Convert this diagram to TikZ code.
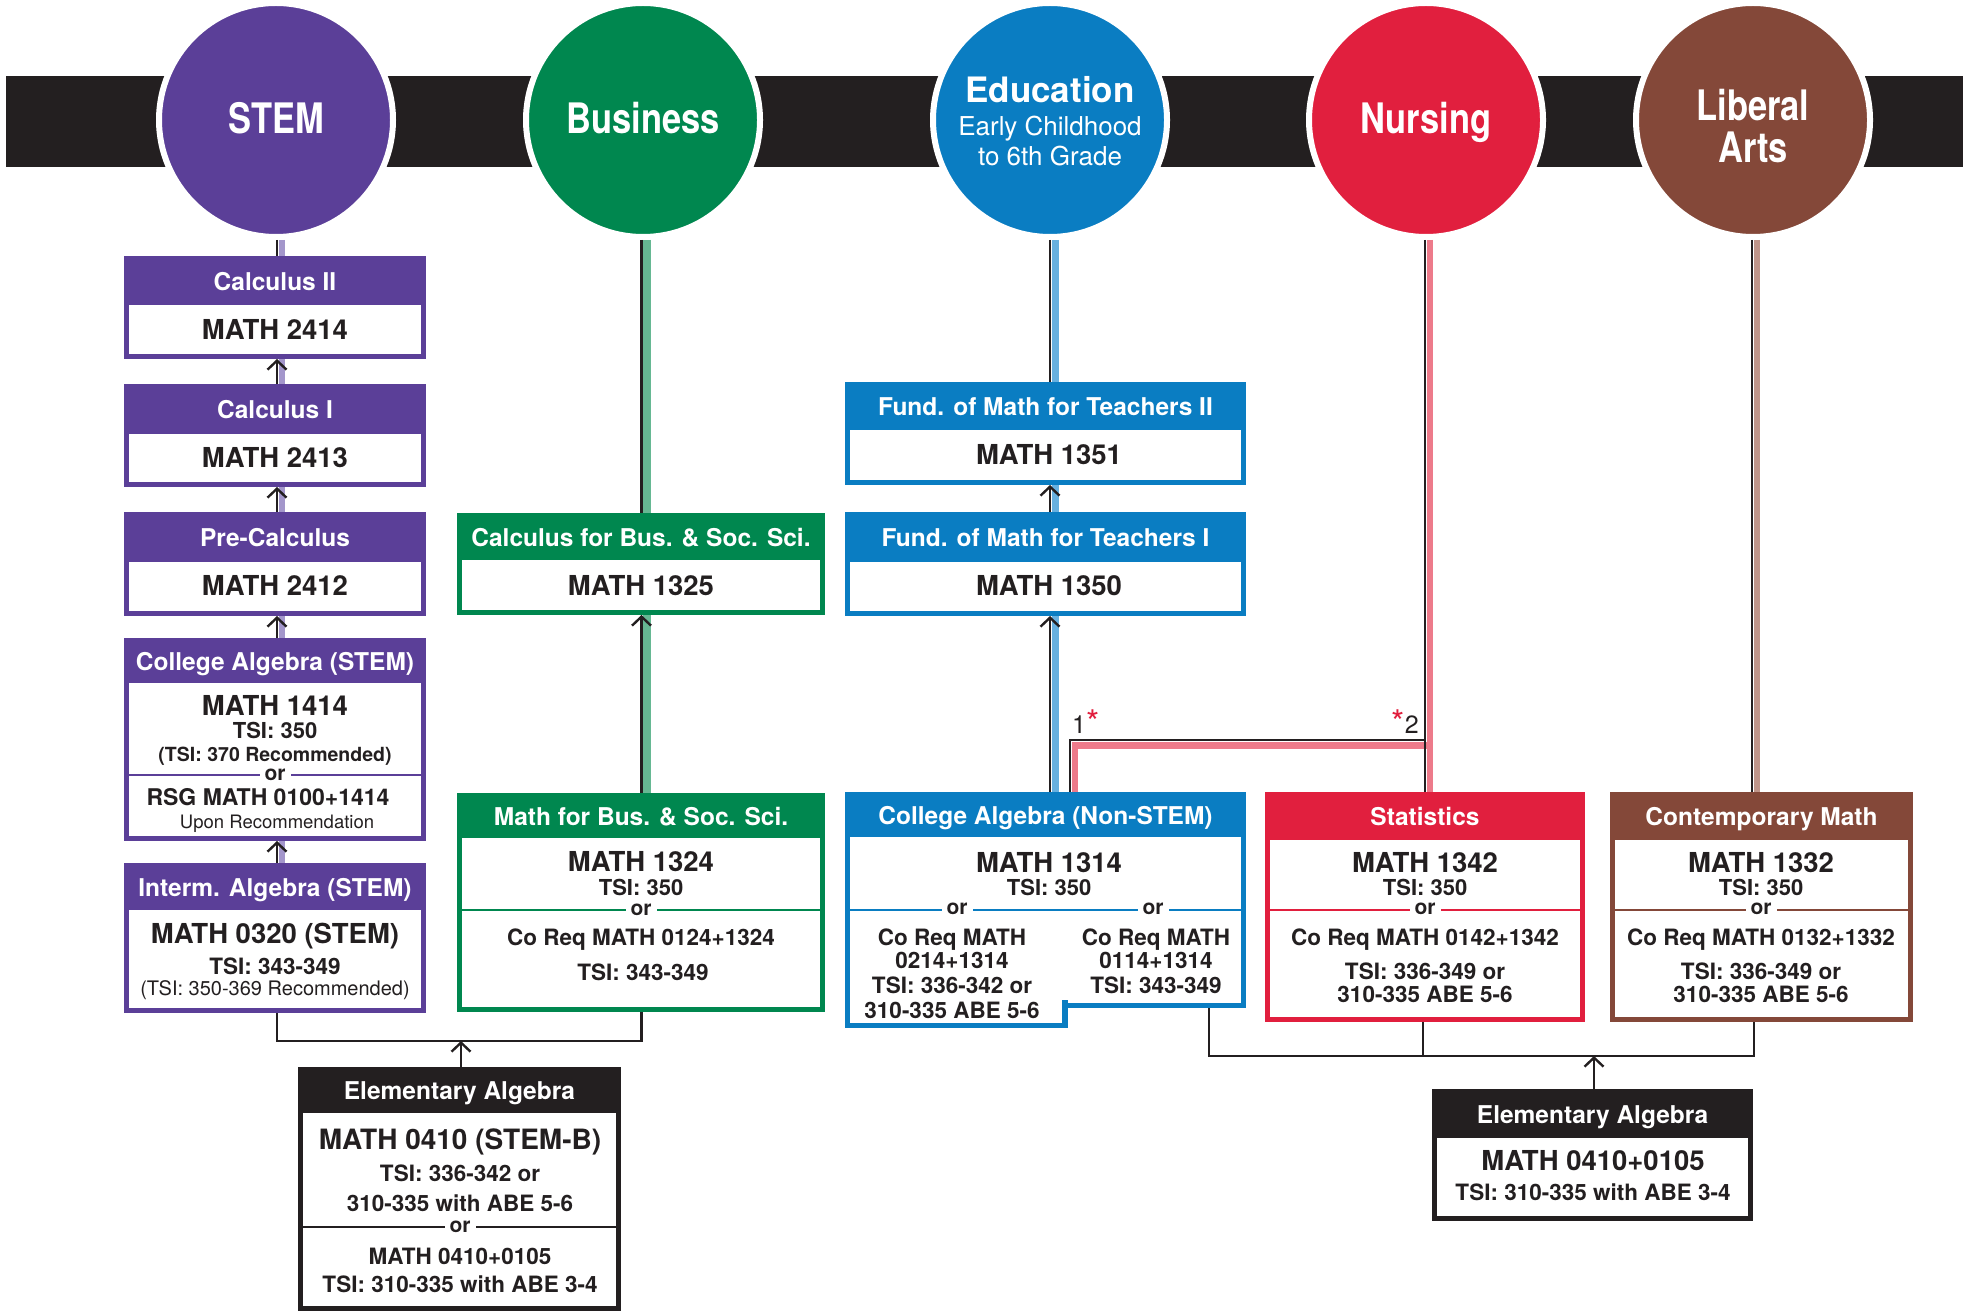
\documentclass[tikz,border=0pt]{standalone}
\usepackage{fontspec}
\setmainfont{TeX Gyre Heros}
\newfontfamily\condf[FakeStretch=0.82]{TeX Gyre Heros}
\usetikzlibrary{arrows.meta}
\definecolor{ink}{HTML}{231F20}
\definecolor{cstem}{HTML}{5B3F98}
\definecolor{cstemL}{HTML}{A396CB}
\definecolor{cbus}{HTML}{00874F}
\definecolor{cbusL}{HTML}{66B893}
\definecolor{cedu}{HTML}{0A7DC2}
\definecolor{ceduL}{HTML}{67B0DF}
\definecolor{cnur}{HTML}{E11F3E}
\definecolor{cnurL}{HTML}{ED7A8A}
\definecolor{clib}{HTML}{844839}
\definecolor{clibL}{HTML}{BF958A}
\newcount\tn
\newcommand\TxB[4]{\global\advance\tn by 1\relax\node[anchor=base,inner sep=0pt,text=ink,font=\bfseries\fontsize{#1}{#1}\selectfont] (t\the\tn) at ({#2},{#3+0.36*#1}) {#4};}
\newcommand\TxR[4]{\global\advance\tn by 1\relax\node[anchor=base,inner sep=0pt,text=ink,font=\fontsize{#1}{#1}\selectfont] (t\the\tn) at ({#2},{#3+0.36*#1}) {#4};}
\newcommand\TxW[4]{\global\advance\tn by 1\relax\node[anchor=base,inner sep=0pt,text=white,font=\bfseries\fontsize{#1}{#1}\selectfont] (t\the\tn) at ({#2},{#3+0.36*#1}) {#4};}
\newcommand\TxRW[4]{\global\advance\tn by 1\relax\node[anchor=base,inner sep=0pt,text=white,font=\fontsize{#1}{#1}\selectfont] (t\the\tn) at ({#2},{#3+0.36*#1}) {#4};}
\newcommand\TxC[4]{\global\advance\tn by 1\relax\node[anchor=base,inner sep=0pt,text=white,font=\condf\bfseries\fontsize{#1}{#1}\selectfont] (t\the\tn) at ({#2},{#3+0.36*#1}) {#4};}
\newcommand\OrN[2]{\global\advance\tn by 1\relax\node[anchor=base,fill=white,inner xsep=5pt,inner ysep=1pt,text=ink,font=\bfseries\fontsize{21}{21}\selectfont] (t\the\tn) at ({#1},{#2+0.26*21}) {or};}
\newcommand\SepL[4]{\draw[#1,line width=2.5pt] ({#2},{#4}) -- ({#3},{#4});}
\newcommand\Ast{\textcolor{cnur}{\fontsize{34}{34}\selectfont\raisebox{-1pt}{*}}}
% name, left, top, header bottom, right, bottom, colour, header text
\newcommand\cbox[8]{%
  \node[fill=#7,inner sep=0pt,outer sep=0pt,anchor=north west,minimum width={#5-#2},minimum height={#6-#3}] (#1) at (#2,#3) {};
  \fill[white] ({#2+5},#4) rectangle ({#5-5},{#6-5});
  \TxW{24.5}{(#2+#5)/2}{(#3+#4)/2+1}{#8}}
\begin{document}
\begin{tikzpicture}[x=1pt,y=-1pt,
  circ/.style={circle,draw=white,line width=6pt,minimum size=234pt,inner sep=0pt},
  conn/.style={draw=ink,line width=2.4pt},
  arr/.style={conn,-{Straight Barb[length=9pt,width=19pt]}},
  lite/.style={line width=6.5pt}]
\useasboundingbox (0,0) rectangle (1969,1313);
% band
\fill[ink] (6,76) rectangle (1963,167);
% circles
\node[circ,fill=cstem] (stem) at (276,120) {};
\node[circ,fill=cbus] (bus) at (643,120) {};
\node[circ,fill=cedu] (edu) at (1050,120) {};
\node[circ,fill=cnur] (nur) at (1426,120) {};
\node[circ,fill=clib] (lib) at (1753,120) {};
\TxC{42}{276}{118}{STEM}
\TxC{42}{643}{118}{Business}
\TxC{42}{1426}{118}{Nursing}
\TxC{42}{1753}{105}{Liberal}
\TxC{42}{1753}{147}{Arts}
\TxW{35}{1050}{90}{Education}
\TxRW{26}{1050}{126}{Early Childhood}
\TxRW{26}{1050}{156}{to 6th Grade}
% x positions of the lines
\coordinate (xs) at (277,0);  \coordinate (xsL) at (282,0);
\coordinate (xb) at (641.5,0);  \coordinate (xbL) at (647,0);
\coordinate (xe) at (1050,0); \coordinate (xeL) at (1055.5,0);
\coordinate (xn) at (1425,0); \coordinate (xnL) at (1430,0);
\coordinate (xl) at (1752,0); \coordinate (xlL) at (1757,0);
\coordinate (xNS) at (1070,0); \coordinate (xNSL) at (1075,0);
\coordinate (br) at (0,740); \coordinate (brL) at (0,745.5);
\coordinate (xst) at (1423,0); \coordinate (xct) at (1754,0);
\coordinate (jl) at (461,1041); \coordinate (jr) at (1594,1056);
\coordinate (nsR) at (1209,1008);
% light lines
\draw[cstemL,lite] (stem.south -| xsL) -- (xsL |- 0,863);
\draw[cbusL,lite,line width=8pt] (bus.south -| xbL) -- (xbL |- 0,793);
\draw[ceduL,lite] (edu.south -| xeL) -- (xeL |- 0,792);
\draw[clibL,lite] (lib.south -| xlL) -- (xlL |- 0,792);
\draw[cnurL,lite] (nur.south -| xnL) -- (xnL |- 0,792);
\draw[cnurL,lite,line join=miter] (xnL |- brL) -- (brL -| xNSL) -- (xNSL |- 0,792);
% boxes : STEM
\cbox{calcII}{124}{256}{305}{426}{359}{cstem}{Calculus II}
\TxB{27.5}{275}{330}{MATH 2414}
\cbox{calcI}{124}{384}{434}{426}{487}{cstem}{Calculus I}
\TxB{27.5}{275}{458}{MATH 2413}
\cbox{precalc}{124}{512}{562}{426}{616}{cstem}{Pre-Calculus}
\TxB{27.5}{275}{586}{MATH 2412}
\cbox{calgS}{124}{638}{683}{426}{841}{cstem}{College Algebra (STEM)}
\TxB{27.5}{275}{706}{MATH 1414}
\TxB{22}{275}{731}{TSI: 350}
\TxB{19.5}{275}{754}{(TSI: 370 Recommended)}
\SepL{cstem}{129}{421}{775}
\OrN{275}{775}
\TxB{23}{268}{797}{RSG MATH 0100+1414}
\TxR{18.5}{277}{822}{Upon Recommendation}
\cbox{interm}{124}{863}{910}{426}{1013}{cstem}{Interm. Algebra (STEM)}
\TxB{27.5}{275}{934}{MATH 0320 (STEM)}
\TxB{22.5}{275}{966}{TSI: 343-349}
\TxR{20}{275}{988}{(TSI: 350-369 Recommended)}
% Business
\cbox{calcbus}{457}{513}{560}{825}{615}{cbus}{Calculus for Bus. \& Soc. Sci.}
\TxB{27.5}{641}{586}{MATH 1325}
\cbox{mathbus}{457}{793}{838}{825}{1012}{cbus}{Math for Bus. \& Soc. Sci.}
\TxB{27.5}{641}{862}{MATH 1324}
\TxB{22}{641}{888}{TSI: 350}
\SepL{cbus}{462}{820}{910}
\OrN{641}{910}
\TxB{22.5}{641}{937}{Co Req MATH 0124+1324}
\TxB{22.5}{643}{972}{TSI: 343-349}
% Education
\cbox{fundII}{845}{382}{430}{1246}{485}{cedu}{Fund. of Math for Teachers II}
\TxB{27.5}{1049}{455}{MATH 1351}
\cbox{fundI}{845}{512}{562}{1246}{616}{cedu}{Fund. of Math for Teachers I}
\TxB{27.5}{1049}{586}{MATH 1350}
\cbox{cans}{845}{792}{837}{1246}{1008}{cedu}{College Algebra (Non-STEM)}
\fill[cedu] (845,1000) rectangle (1068,1028);
\fill[white] (850,911) rectangle (1062,1023);
\fill[white] (1068,911) rectangle (1241,1003);
\SepL{cedu}{850}{1241}{910}
\TxB{27.5}{1049}{863}{MATH 1314}
\TxB{22}{1049}{888}{TSI: 350}
\OrN{957}{909}
\OrN{1153}{909}
\TxB{22.5}{952}{937}{Co Req MATH}
\TxB{22.5}{952}{960}{0214+1314}
\TxB{22.5}{952}{985}{TSI: 336-342 or}
\TxB{22.5}{952}{1010}{310-335 ABE 5-6}
\TxB{22.5}{1156}{937}{Co Req MATH}
\TxB{22.5}{1156}{960}{0114+1314}
\TxB{22.5}{1156}{985}{TSI: 343-349}
% Nursing
\cbox{stats}{1265}{792}{840}{1585}{1022}{cnur}{Statistics}
\TxB{27.5}{1425}{863}{MATH 1342}
\TxB{22}{1425}{888}{TSI: 350}
\SepL{cnur}{1270}{1580}{910}
\OrN{1425}{909}
\TxB{22.5}{1425}{937}{Co Req MATH 0142+1342}
\TxB{22.5}{1425}{971}{TSI: 336-349 or}
\TxB{22.5}{1425}{994}{310-335 ABE 5-6}
% Liberal arts
\cbox{contemp}{1610}{792}{840}{1913}{1022}{clib}{Contemporary Math}
\TxB{27.5}{1761}{863}{MATH 1332}
\TxB{22}{1761}{888}{TSI: 350}
\SepL{clib}{1615}{1908}{910}
\OrN{1761}{909}
\TxB{22.5}{1761}{937}{Co Req MATH 0132+1332}
\TxB{22.5}{1761}{971}{TSI: 336-349 or}
\TxB{22.5}{1761}{994}{310-335 ABE 5-6}
% Elementary algebra left
\cbox{elemL}{298}{1067}{1113}{621}{1311}{ink}{Elementary Algebra}
\TxB{28}{460}{1139}{MATH 0410 (STEM-B)}
\TxB{22.5}{460}{1173}{TSI: 336-342 or}
\TxB{22.5}{460}{1203}{310-335 with ABE 5-6}
\SepL{ink}{303}{616}{1227}
\OrN{460}{1227}
\TxB{22.5}{460}{1256}{MATH 0410+0105}
\TxB{22.5}{460}{1284}{TSI: 310-335 with ABE 3-4}
% Elementary algebra right
\cbox{elemR}{1432}{1089}{1138}{1753}{1221}{ink}{Elementary Algebra}
\TxB{27.5}{1593}{1161}{MATH 0410+0105}
\TxB{22.5}{1593}{1192}{TSI: 310-335 with ABE 3-4}
% black connectors
\draw[conn] (stem.south -| xs) -- (calcII.north -| xs);
\draw[arr] (calcI.north -| xs) -- (calcII.south -| xs);
\draw[arr] (precalc.north -| xs) -- (calcI.south -| xs);
\draw[arr] (calgS.north -| xs) -- (precalc.south -| xs);
\draw[arr] (interm.north -| xs) -- (calgS.south -| xs);
\draw[conn] (bus.south -| xb) -- (calcbus.north -| xb);
\draw[arr] (mathbus.north -| xb) -- (calcbus.south -| xb);
\draw[conn] (edu.south -| xe) -- (fundII.north -| xe);
\draw[arr] (fundI.north -| xe) -- (fundII.south -| xe);
\draw[arr] (cans.north -| xe) -- (fundI.south -| xe);
\draw[conn] (nur.south -| xn) -- (stats.north -| xn);
\draw[conn] (xn |- br) -- (br -| xNS) -- (cans.north -| xNS);
\draw[conn] (lib.south -| xl) -- (contemp.north -| xl);
\draw[conn] (interm.south -| xs) -- (xs |- jl) -- (jl -| xb) -- (mathbus.south -| xb);
\draw[arr] (elemL.north -| jl) -- (jl);
\draw[conn] (nsR) -- (nsR |- jr) -- (jr -| xct) -- (contemp.south -| xct);
\draw[conn] (stats.south -| xst) -- (xst |- jr);
\draw[arr] (elemR.north -| jr) -- (jr);
% footnote marks
\node[anchor=base west,inner sep=0pt,text=ink,font=\fontsize{25}{25}\selectfont] (m1) at (1072,733) {1\Ast};
\node[anchor=base east,inner sep=0pt,text=ink,font=\fontsize{25}{25}\selectfont] (m2) at (1419,733) {\Ast 2};
\end{tikzpicture}
\end{document}
